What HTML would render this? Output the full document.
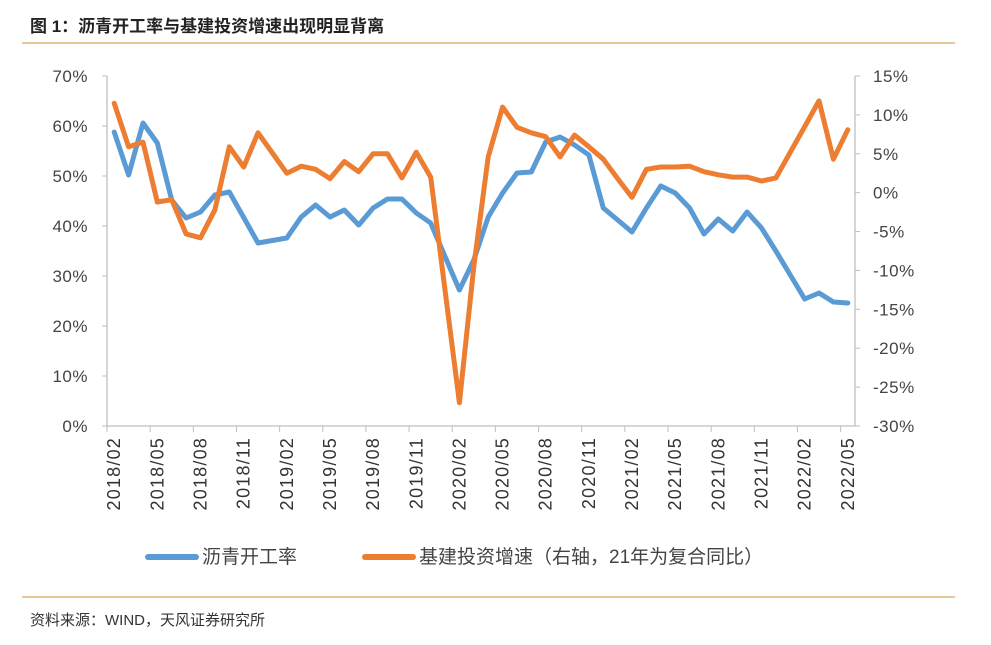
<!DOCTYPE html>
<html><head><meta charset="utf-8"><style>
body{margin:0;background:#fff;}
svg{display:block;font-family:"Liberation Sans","Noto Sans CJK SC",sans-serif;}
</style></head><body>
<svg id="c" width="991" height="645" viewBox="0 0 991 645">
<text x="30" y="32" font-size="17" font-weight="bold" fill="#222">图 1：沥青开工率与基建投资增速出现明显背离</text>
<line x1="22" y1="43" x2="955" y2="43" stroke="#d4a65a" stroke-width="1.2"/>
<line x1="22" y1="597" x2="955" y2="597" stroke="#d4a65a" stroke-width="1.2"/>
<text x="30" y="625" font-size="15" fill="#333">资料来源：WIND，天风证券研究所</text>
<g id="axes"></g>
<g id="series"></g>
<g>
<line x1="148" y1="557" x2="196" y2="557" stroke="#5b9bd5" stroke-width="6" stroke-linecap="round"/>
<text x="202" y="563" font-size="19" fill="#444">沥青开工率</text>
<line x1="365" y1="557" x2="413" y2="557" stroke="#ed7d31" stroke-width="6" stroke-linecap="round"/>
<text x="419" y="563" font-size="19" fill="#444">基建投资增速（右轴，21年为复合同比）</text>
</g>
</svg>
<script>
const months=["2018/02","2018/03","2018/04","2018/05","2018/06","2018/07","2018/08","2018/09","2018/10","2018/11","2018/12","2019/01","2019/02","2019/03","2019/04","2019/05","2019/06","2019/07","2019/08","2019/09","2019/10","2019/11","2019/12","2020/01","2020/02","2020/03","2020/04","2020/05","2020/06","2020/07","2020/08","2020/09","2020/10","2020/11","2020/12","2021/01","2021/02","2021/03","2021/04","2021/05","2021/06","2021/07","2021/08","2021/09","2021/10","2021/11","2021/12","2022/01","2022/02","2022/03","2022/04","2022/05"];
const asphalt=[58.8,50.2,60.6,56.6,45.2,41.6,42.8,46.2,46.8,41.7,36.6,37.1,37.6,41.8,44.2,41.8,43.2,40.2,43.6,45.4,45.4,42.6,40.6,33.9,27.2,33.2,41.8,46.6,50.6,50.8,56.8,57.8,56.2,54.2,43.6,41.2,38.8,43.6,48.0,46.6,43.6,38.4,41.4,39.0,42.8,39.6,35.0,30.2,25.4,26.6,24.8,24.6];
const infra=[11.5,5.9,6.5,-1.2,-0.9,-5.3,-5.8,-2.2,5.9,3.3,7.7,5.1,2.5,3.4,3.0,1.8,4.0,2.7,5.0,5.0,1.9,5.2,2.0,-12.5,-27.0,-9.5,4.6,11.0,8.4,7.7,7.2,4.6,7.4,5.9,4.3,1.8,-0.6,3.0,3.3,3.3,3.4,2.7,2.3,2.0,2.0,1.5,1.9,5.2,8.5,11.8,4.3,8.1];
const leftTicks=[0,10,20,30,40,50,60,70];
const rightTicks=[-30,-25,-20,-15,-10,-5,0,5,10,15];
const X0=107,X1=855,Y0=426,Y1=76;
const bw=(X1-X0)/months.length;
const xs=i=>X0+bw*(i+0.5);
const yl=v=>Y0-(v-0)/70*(Y0-Y1);
const yr=v=>Y0-(v+30)/45*(Y0-Y1);
const NS="http://www.w3.org/2000/svg";
const ax=document.getElementById('axes'),se=document.getElementById('series');
function mk(tag,attrs,parent,txt){const e=document.createElementNS(NS,tag);for(const k in attrs)e.setAttribute(k,attrs[k]);if(txt!=null)e.textContent=txt;parent.appendChild(e);return e;}
let e;
e=mk('line',{x1:X0,y1:Y1,x2:X0,y2:Y0,stroke:'#bfbfbf','stroke-width':1.3},ax);


e=mk('line',{x1:X1,y1:Y1,x2:X1,y2:Y0,stroke:'#bfbfbf','stroke-width':1.3},ax);


e=mk('line',{x1:X0,y1:Y0,x2:X1,y2:Y0,stroke:'#bfbfbf','stroke-width':1.3},ax);


leftTicks.forEach(v=>{const y=yl(v);
 mk('line',{x1:X0-5,y1:y,x2:X0,y2:y,stroke:'#bfbfbf'},ax);
 e=mk('text',{x:88,y:y+6,'font-size':17,fill:'#444','text-anchor':'end','letter-spacing':'0.5'},ax,v+'%');
 
 
});
rightTicks.forEach(v=>{const y=yr(v);
 mk('line',{x1:X1,y1:y,x2:X1+5,y2:y,stroke:'#bfbfbf'},ax);
 e=mk('text',{x:873,y:y+6,'font-size':17,fill:'#444','letter-spacing':'0.5'},ax,v+'%');
 
 
});
for(let i=0;i<=months.length;i+=3){const x=X0+bw*i;mk('line',{x1:x,y1:Y0,x2:x,y2:Y0+6,stroke:'#bfbfbf'},ax);}
months.forEach((m,i)=>{if(i%3!==0)return;const x=xs(i)+6;
 e=mk('text',{x:0,y:0,'font-size':18,fill:'#333','text-anchor':'end','letter-spacing':'1.2',transform:`translate(${x},437) rotate(-90)`},ax,m);
 
 
});
function line(vals,fy,col,name){const d=vals.map((v,i)=>(i?'L':'M')+xs(i).toFixed(1)+','+fy(v).toFixed(1)).join('');
 const p=mk('path',{d:d,fill:'none',stroke:col,'stroke-width':5,'stroke-linejoin':'round','stroke-linecap':'round'},se);
 
 }
line(asphalt,yl,'#5b9bd5','asphalt-operating-rate-line');
line(infra,yr,'#ed7d31','infrastructure-investment-growth-line');
</script>
</body></html>
